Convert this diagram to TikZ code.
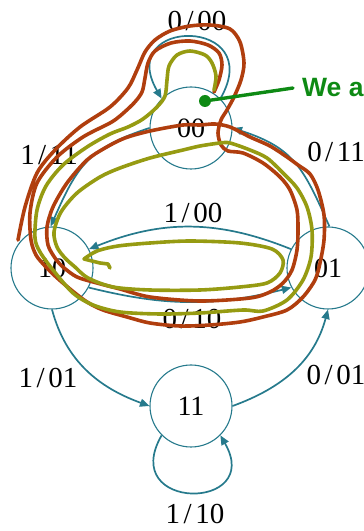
\documentclass[tikz,border=0pt]{standalone}
\usepackage{fontspec}
\setmainfont{Liberation Serif}
\newfontfamily\notefont{Liberation Sans}
\usetikzlibrary{arrows.meta}

\definecolor{edgeteal}{RGB}{38,122,140}
\definecolor{penrust}{RGB}{176,62,14}
\definecolor{penolive}{RGB}{150,155,18}
\definecolor{pengreen}{RGB}{14,138,20}

% input/output label of a transition
\newcommand{\iolabel}[2]{#1\kern3.5pt/\kern3.5pt#2}

\begin{document}
\begin{tikzpicture}[x=1pt,y=1pt,
  state/.style={circle, draw=edgeteal, line width=1.1pt, minimum size=82pt,
    inner sep=0pt, font=\fontsize{28}{30}\selectfont},
  trans/.style={draw=edgeteal, line width=1.7pt,
    -{Triangle[length=9.5pt,width=8pt]}},
  lbl/.style={inner sep=0pt, font=\fontsize{29}{31}\selectfont},
  rustink/.style={draw=penrust, line width=3.6pt, line cap=round, line join=round},
  oliveink/.style={draw=penolive, line width=3.6pt, line cap=round, line join=round},
  greenink/.style={draw=pengreen, line width=3.4pt, line cap=round}]

\useasboundingbox (0,0) rectangle (364,531);

% states of the encoder
\node[state] (s00) at (191,403) {00};
\node[state] (s10) at (52,263) {10};
\node[state] (s01) at (328,263) {01};
\node[state] (s11) at (191,125) {11};

% transitions
\draw[trans] (s00.45) .. controls +(60:95) and +(120:95) .. (s00.135);
\draw[trans] (s00.180) to[out=198,in=66,looseness=1.2] (s10.92);
\draw[trans] (s01.88) to[out=114,in=-18,looseness=1.2] (s00.0);
\draw[trans] (s01.153) to[bend right=22] (s10.27);
\draw[trans] (s10.-28) to[bend right=14] (s01.208);
\draw[trans] (s10.-90) to[out=-75,in=160] (s11.180);
\draw[trans] (s11.0) to[out=20,in=255] (s01.-90);
\draw[trans] (s11.-135) .. controls +(-120:88) and +(-60:88) .. (s11.-45);

% transition labels
\node[lbl] (t0000) at (197,510) {\iolabel{0}{00}};
\node[lbl] (t1011) at (49,376) {\iolabel{1}{11}};
\node[lbl] (t0011) at (336,379) {\iolabel{0}{11}};
\node[lbl] (t0100) at (193,318) {\iolabel{1}{00}};
\node[lbl] (t1010) at (192,212) {\iolabel{0}{10}};
\node[lbl] (t1001) at (48,153) {\iolabel{1}{01}};
\node[lbl] (t0101) at (336,156) {\iolabel{0}{01}};
\node[lbl] (t1110) at (195,17) {\iolabel{1}{10}};

% hand-drawn path traces (page coordinates, y pointing down)
\begin{scope}[yshift=531pt, yscale=-1]
  \draw[rustink] plot[smooth, tension=0.5] coordinates {
    (214,92) (219,80) (222,65) (219,53) (208,45) (190,41) (171,43) (155,51)
    (148,63) (145,78) (142,92) (134,103) (120,116) (110,123) (83,137)
    (57,157) (37,183) (30,213) (31,240) (36,255) (45,266) (55,276) (70,289)
    (87,302) (103,310) (127,317) (150,323) (180,326) (210,325) (240,322)
    (263,317) (287,310) (303,297) (315,280) (320,263) (324,240) (324,215)
    (318,190) (310,174) (298,165) (287,157) (270,146) (250,137) (230,127)
    (215,124) (200,125) (183,125) (150,131) (125,138) (105,148) (87,160)
    (67,183) (53,207) (47,227) (48,245) (55,258) (63,267) (77,277) (97,283)
    (120,289) (150,297) (200,301) (250,298) (270,292) (283,283) (292,270)
    (297,250) (298,230) (297,210) (290,190) (280,177) (263,163) (243,153)
    (228,151) (221,145) (218,133) (221,120) (227,110) (234,97) (241,80)
    (244,63) (240,42) (230,29) (210,25) (190,26) (170,31) (155,40) (145,52)
    (137,70) (128,88) (110,107) (80,127) (55,150) (37,173) (25,207) (18,240)};
  \draw[oliveink] plot[smooth, tension=0.5] coordinates {
    (214,90) (216,76) (212,63) (205,55) (190,51) (177,55) (169,66) (167,80)
    (165,96) (157,107) (143,119) (128,127) (110,134) (87,147) (63,165)
    (46,186) (37,210) (35,238) (40,252) (53,270) (73,293) (93,305) (120,312)
    (160,314) (200,313) (243,310) (263,311) (287,300) (303,280) (311,257)
    (312,230) (307,207) (297,188) (283,173) (267,158) (250,150) (230,143)
    (220,143) (200,146) (183,150) (150,158) (120,168) (100,177) (77,193)
    (61,212) (54,232) (57,247) (65,258) (75,267) (88,278) (113,287) (150,290)
    (200,290) (240,287) (267,283) (280,273) (283,260) (272,249) (240,243)
    (190,241) (150,243) (118,246) (97,251) (84,259)};
  \draw[oliveink] (84,259) -- (100,263) -- (108,264) -- (110,268);

  % pointer to the starting state
  \node[circle, fill=pengreen, minimum size=12pt, inner sep=0pt] (gdot) at (205,101) {};
  \node[anchor=base west, inner sep=0pt, text=pengreen,
    font=\notefont\bfseries\fontsize{26.5}{28}\selectfont] (note) at (302,97) {We a};
  \draw[greenink] (gdot) -- ([xshift=-9pt]note.west);
\end{scope}
\end{tikzpicture}
\end{document}
